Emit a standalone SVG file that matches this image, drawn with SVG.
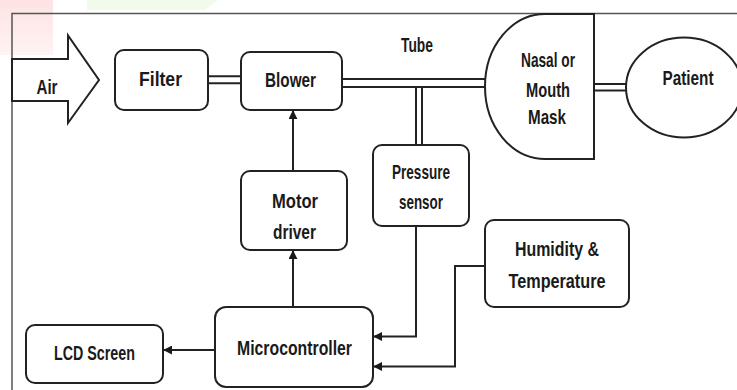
<svg xmlns="http://www.w3.org/2000/svg" width="737" height="390" viewBox="0 0 737 390">
<defs>
<marker id="ah" viewBox="0 0 10 10" refX="9" refY="5" markerWidth="9" markerHeight="9" markerUnits="userSpaceOnUse" orient="auto">
<path d="M0,0 L10,5 L0,10 Z" fill="#1a1a1a"/>
</marker>
<linearGradient id="pk" x1="0" y1="0" x2="0" y2="1">
<stop offset="0" stop-color="#fde3e3"/>
<stop offset="1" stop-color="#fff3f3"/>
</linearGradient>
<style>
.box{fill:#fff;stroke:#222;stroke-width:2}
.t{font-family:"Liberation Sans",Arial,sans-serif;font-weight:bold;font-size:21px;fill:#1a1a1a;text-anchor:middle}
.ln{fill:none;stroke:#222;stroke-width:2}
.dbo{fill:none;stroke:#222}
.dbi{fill:none;stroke:#fff}
</style>
</defs>
<rect width="737" height="390" fill="#fff"/>
<g id="watermark">
<rect x="0" y="0" width="53" height="55" fill="url(#pk)"/>
<polygon points="87,0 218,0 205,10 87,10" fill="#f1faeb"/>
</g>
<rect id="frame" x="12" y="13.5" width="740" height="400" fill="none" stroke="#555" stroke-width="1.5"/>

<g id="connectors">
<line class="dbo" x1="207" y1="79.7" x2="242" y2="79.7" stroke-width="9"/>
<line class="dbi" x1="207" y1="79.7" x2="242" y2="79.7" stroke-width="5"/>
<line class="dbo" x1="341" y1="83" x2="490" y2="83" stroke-width="10"/>
<line class="dbi" x1="341" y1="83" x2="490" y2="83" stroke-width="6"/>
<line class="dbo" x1="419" y1="87" x2="419" y2="146" stroke-width="8"/>
<line class="dbi" x1="419" y1="88" x2="419" y2="146" stroke-width="4"/>
<line class="dbo" x1="593" y1="87.3" x2="629" y2="87.3" stroke-width="8.5"/>
<line class="dbi" x1="593" y1="87.3" x2="629" y2="87.3" stroke-width="4.5"/>
<line class="ln" x1="293" y1="171" x2="293" y2="111" marker-end="url(#ah)"/>
<line class="ln" x1="293" y1="307" x2="293" y2="251" marker-end="url(#ah)"/>
<line class="ln" x1="215" y1="350" x2="164" y2="350" marker-end="url(#ah)"/>
<polyline class="ln" points="416,226 416,336.5 374,336.5" marker-end="url(#ah)"/>
<polyline class="ln" points="485,266 455,266 455,366.5 374,366.5" marker-end="url(#ah)"/>
</g>

<g id="air">
<polygon points="12,59 68,59 68,35.5 99,80 68,123 68,101 12,101" fill="#fff" stroke="#222" stroke-width="2"/>
<text class="t" x="47" y="94" textLength="21" lengthAdjust="spacingAndGlyphs">Air</text>
</g>
<g id="filter">
<rect class="box" x="115" y="50" width="93" height="60" rx="9"/>
<text class="t" x="160.5" y="86" textLength="43" lengthAdjust="spacingAndGlyphs">Filter</text>
</g>
<g id="blower">
<rect class="box" x="241" y="52" width="101" height="58" rx="9"/>
<text class="t" x="290.5" y="87" textLength="51" lengthAdjust="spacingAndGlyphs">Blower</text>
</g>
<g id="tube">
<text class="t" x="417" y="52" textLength="32" lengthAdjust="spacingAndGlyphs">Tube</text>
</g>
<g id="mask">
<path d="M594,14 H545 A60,72.5 0 0 0 545,159 H594 Z" fill="#fff" stroke="#222" stroke-width="2"/>
<text class="t" x="548" y="67" textLength="54" lengthAdjust="spacingAndGlyphs">Nasal or</text>
<text class="t" x="548" y="97" textLength="44" lengthAdjust="spacingAndGlyphs">Mouth</text>
<text class="t" x="547" y="124" textLength="38" lengthAdjust="spacingAndGlyphs">Mask</text>
</g>
<g id="patient">
<ellipse cx="684" cy="87.5" rx="58" ry="50" fill="#fff" stroke="#222" stroke-width="2"/>
<text class="t" x="688" y="85" textLength="51" lengthAdjust="spacingAndGlyphs">Patient</text>
</g>
<g id="pressure">
<rect class="box" x="373" y="145" width="96" height="81" rx="9"/>
<text class="t" x="421" y="179" textLength="58" lengthAdjust="spacingAndGlyphs">Pressure</text>
<text class="t" x="421" y="209" textLength="44" lengthAdjust="spacingAndGlyphs">sensor</text>
</g>
<g id="humidity">
<rect class="box" x="485" y="220" width="144" height="87" rx="9"/>
<text class="t" x="557" y="256" textLength="84" lengthAdjust="spacingAndGlyphs">Humidity &amp;</text>
<text class="t" x="557" y="288" textLength="97" lengthAdjust="spacingAndGlyphs">Temperature</text>
</g>
<g id="motor">
<rect class="box" x="241" y="171" width="106" height="79" rx="9"/>
<text class="t" x="295" y="208" textLength="46" lengthAdjust="spacingAndGlyphs">Motor</text>
<text class="t" x="294.5" y="239" textLength="43" lengthAdjust="spacingAndGlyphs">driver</text>
</g>
<g id="microcontroller">
<rect class="box" x="215" y="307" width="158" height="80" rx="11"/>
<text class="t" x="294.5" y="355" textLength="115" lengthAdjust="spacingAndGlyphs">Microcontroller</text>
</g>
<g id="lcd">
<rect class="box" x="26" y="325" width="137" height="58" rx="9"/>
<text class="t" x="94.5" y="360" textLength="81" lengthAdjust="spacingAndGlyphs">LCD Screen</text>
</g>
</svg>
